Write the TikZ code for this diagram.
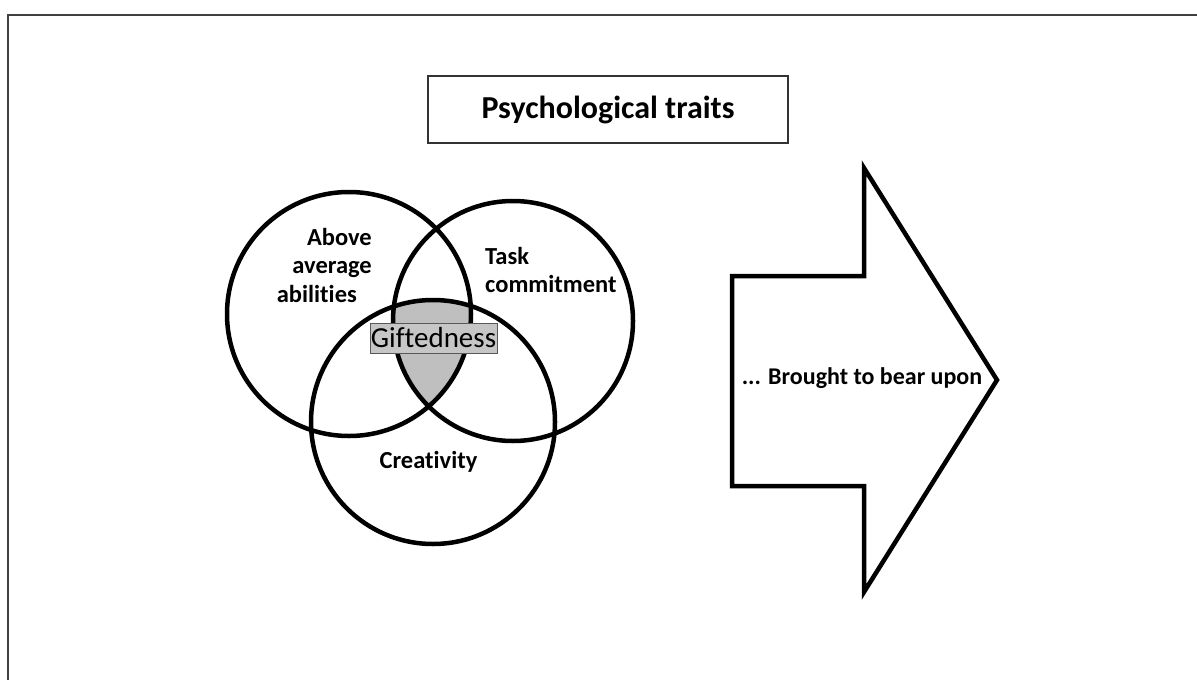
\documentclass[tikz,border=0pt]{standalone}
\usepackage{fontspec}
\setmainfont{Carlito}[Ligatures=NoCommon]
\begin{document}
\begin{tikzpicture}[x=1pt,y=-1pt,
  ring/.style={circle,draw=black,line width=4.5pt,inner sep=0pt},
  lbl/.style={font=\fontsize{24.5}{28.5}\selectfont\bfseries,inner sep=0pt},
  framebox/.style={draw=black!80,line width=1.3pt,inner sep=0pt},
  bigarrow/.style={draw=black,line width=4.5pt,miter limit=10,line join=miter},
]
\useasboundingbox (0,0) rectangle (1197,680);
\fill[white] (0,0) rectangle (1197,680);
% outer frame (top and left edges)
\coordinate (fbl) at (8,680);
\coordinate (ftl) at (8,15);
\coordinate (ftr) at (1197,15);
\draw[line width=2pt,draw=black!75] (fbl) -- (ftl) -- (ftr);
% title
\node[framebox,minimum width=360pt,minimum height=67pt,font=\fontsize{32}{36}\selectfont\bfseries] (title) at (608,109.5) {Psychological traits};
% circle centres
\coordinate (A) at (349,314);
\coordinate (B) at (513,321);
\coordinate (C) at (433,422);
% shaded common part
\begin{scope}
  \clip (A) circle (122pt);
  \clip (B) circle (120pt);
  \fill[gray!50] (C) circle (122pt);
\end{scope}
\node[ring,minimum size=244pt] (ca) at (A) {};
\node[ring,minimum size=240pt] (cb) at (B) {};
\node[ring,minimum size=244pt] (cc) at (C) {};
% labels
\node[lbl,align=right,anchor=east] (abv) at (372,265) {Above\\average\\abilities\hspace*{15pt}};
\node[lbl,align=left,anchor=west] (task) at (485,270) {Task\\commitment};
\node[lbl] (crea) at (428.5,462) {Creativity};
\node[fill=gray!45,draw=black!65,line width=1pt,inner sep=0pt,minimum width=127pt,minimum height=30pt,font=\fontsize{29}{30}\selectfont] (gift) at (433.5,338) {Giftedness};
% big arrow
\coordinate (p1) at (732,276);
\coordinate (p2) at (864,276);
\coordinate (p3) at (864,168);
\coordinate (p4) at (997,380);
\coordinate (p5) at (864,592);
\coordinate (p6) at (864,486);
\coordinate (p7) at (732,486);
\draw[bigarrow] (p1) -- (p2) -- (p3) -- (p4) -- (p5) -- (p6) -- (p7) -- cycle;
\node[lbl,font=\fontsize{24}{28}\selectfont\bfseries] (bear) at (862,378) {... Brought to bear upon};
\end{tikzpicture}
\end{document}
